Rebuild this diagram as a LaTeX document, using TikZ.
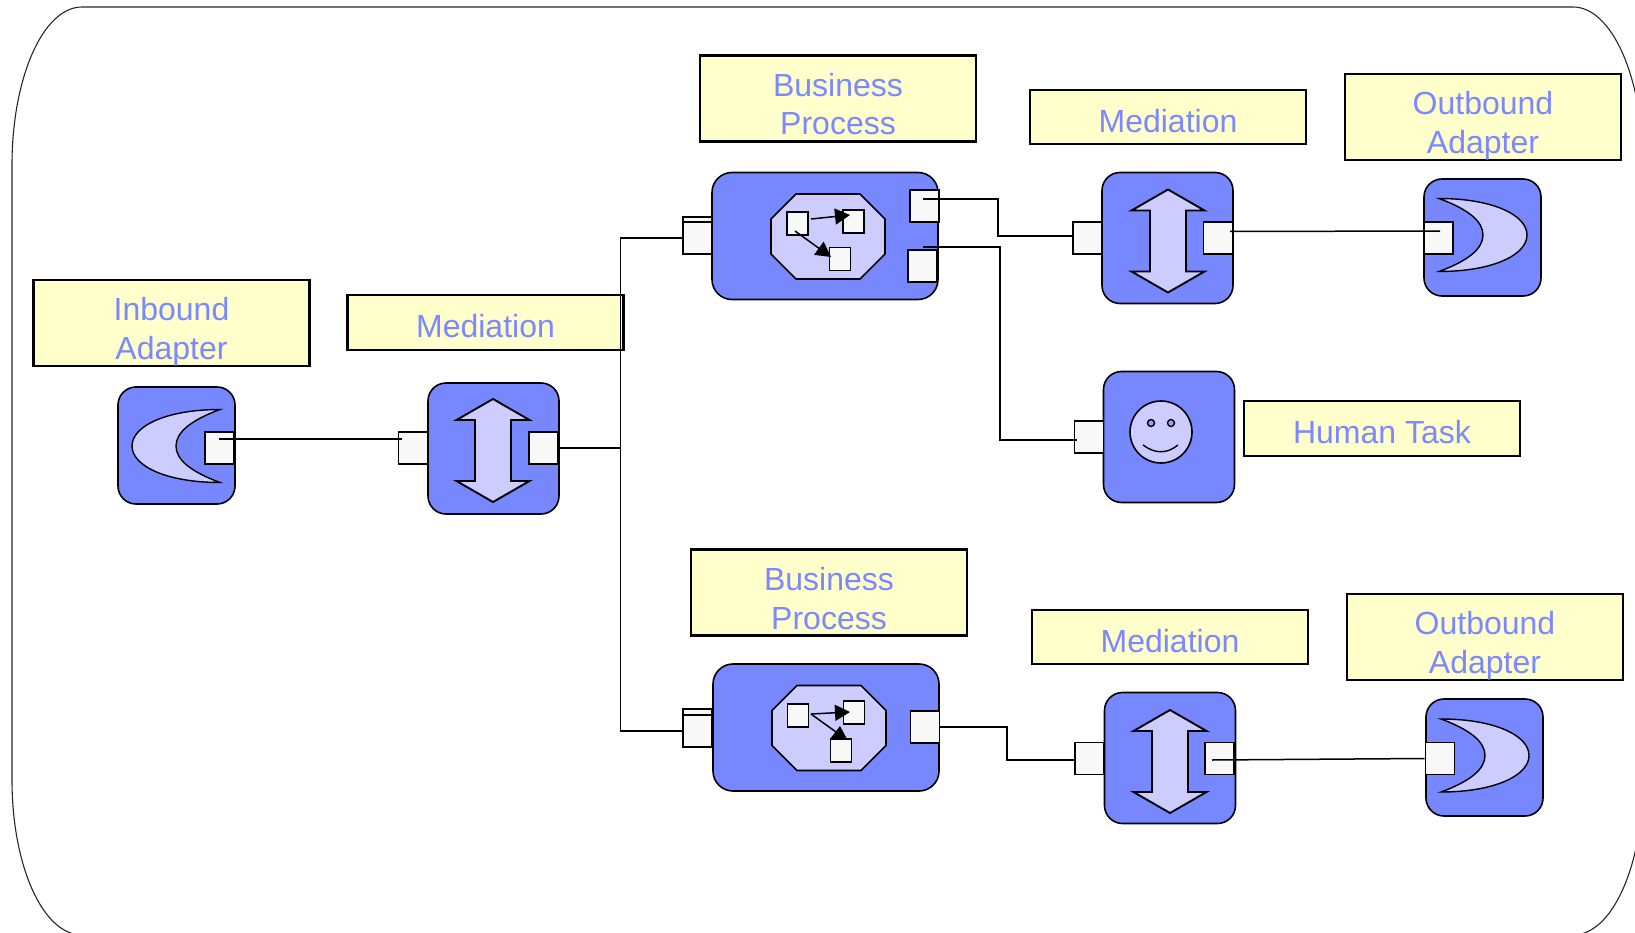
\documentclass[tikz,border=0pt]{standalone}
\usepackage{fontspec}
\setmainfont{Liberation Sans}
\usetikzlibrary{arrows.meta}
\definecolor{iconblue}{HTML}{7788FF}
\definecolor{iconpale}{HTML}{CCCCFF}
\definecolor{noteyellow}{HTML}{FFFFCC}
\definecolor{portgrey}{HTML}{F8F8F8}
\definecolor{notetext}{HTML}{7B88FF}
\tikzset{
  notebox/.style={draw=black,line width=2.1pt,fill=noteyellow,text=notetext,inner sep=0pt,minimum width=276pt,align=center,font=\fontsize{32}{38.6}\selectfont},
  noteone/.style={notebox,text height=42.5pt,text depth=12pt},
  notetwo/.style={notebox,text height=79.5pt,text depth=6.5pt},
  icon/.style={draw=black,line width=1.6pt,fill=iconblue,rounded corners=18pt,inner sep=0pt,minimum width=131pt,minimum height=131pt},
  port/.style={draw=black,line width=1.6pt,fill=portgrey,inner sep=0pt,minimum width=29pt,minimum height=32pt},
  tasksq/.style={draw=black,line width=1.6pt,fill=portgrey,inner sep=0pt,minimum width=21pt,minimum height=23pt},
  wire/.style={draw=black,line width=1.5pt},
  taskarrow/.style={draw=black,line width=1.5pt,-{Triangle[length=15pt,width=16pt]}},
  pics/updown/.style={code={
    \draw[line width=1.9pt,fill=iconpale,line join=miter] (0,-51.5) -- (36.5,-30.5) -- (18,-30.5) -- (18,30.5) -- (36.5,30.5) -- (0,51.5) -- (-36.5,30.5) -- (-18,30.5) -- (-18,-30.5) -- (-36.5,-30.5) -- cycle;
  }},
  pics/crescent/.style={code={
    \draw[line width=1.4pt,fill=iconpale] (-43.5,-36.5) .. controls (10,-36.5) and (44.5,-20) .. (44.5,0) .. controls (44.5,20) and (10,36.5) .. (-43.5,36.5) .. controls (-15,26) and (0.5,14) .. (0.5,0) .. controls (0.5,-14) and (-15,-26) .. (-43.5,-36.5) -- cycle;
  }},
  pics/octagon/.style={code={
    \draw[line width=1.6pt,fill=iconpale] (-32,-42.5) -- (32,-42.5) -- (57,-17.5) -- (57,17.5) -- (32,42.5) -- (-32,42.5) -- (-57,17.5) -- (-57,-17.5) -- cycle;
  }}
}
\begin{document}
\begin{tikzpicture}[x=1pt,y=-1pt]
\useasboundingbox (0,0) rectangle (1635,933);
\clip (0,0) rectangle (1635,933);
\draw[line width=1.1pt,draw=black!85] (12,165) .. controls (12,78) and (43,7) .. (82,7) -- (1573,7) .. controls (1612,7) and (1643,78) .. (1643,165) -- (1643,780) .. controls (1643,866) and (1612,935) .. (1573,935) -- (82,935) .. controls (43,935) and (12,866) .. (12,780) -- cycle;

\node[notetwo] (noteinbound) at (171.5,323) {Inbound\\Adapter};
\node[noteone] (notemedleft) at (485.5,322.5) {Mediation};
\node[notetwo] (noteproctop) at (838,98.5) {Business\\Process};
\node[noteone] (notemedtop) at (1168,117) {Mediation};
\node[notetwo] (noteouttop) at (1483,117) {Outbound\\Adapter};
\node[noteone] (notehuman) at (1382,428.5) {Human Task};
\node[notetwo] (noteprocbot) at (829,592.5) {Business\\Process};
\node[noteone] (notemedbot) at (1170,637) {Mediation};
\node[notetwo] (noteoutbot) at (1485,637) {Outbound\\Adapter};

\node[icon,minimum width=117pt,minimum height=117pt] (inadapter) at (176.5,445.5) {};
\pic[xscale=-1] at (176.5,446) {crescent};
\node[port] (inport) at (219.5,448) {};

\node[icon] (medleft) at (493.5,448.5) {};
\pic at (493,450.5) {updown};
\node[port] (medleftin) at (413,448) {};
\node[port] (medleftout) at (543.5,448) {};

\node[icon,minimum width=226pt,minimum height=127pt,rounded corners=20pt] (proctop) at (825,236) {};
\pic at (828,236.5) {octagon};
\node[port,minimum height=37pt] (proctopback) at (697.5,235.5) {};
\node[port] (proctopin) at (697.5,238) {};
\node[port] (proctopouta) at (924.5,206) {};
\node[port] (proctopoutb) at (922.5,266) {};
\node[tasksq] (sqtopa) at (797.5,223.5) {};
\node[tasksq] (sqtopb) at (853.5,221.5) {};
\node[tasksq] (sqtopc) at (840,259) {};
\coordinate (sqtopastart) at (811,219);
\coordinate (sqtopbend) at (850,215);
\coordinate (sqtopbstart) at (795,231);
\coordinate (sqtopcend) at (831,257);
\draw[taskarrow] (sqtopastart) -- (sqtopbend);
\draw[taskarrow] (sqtopbstart) -- (sqtopcend);

\node[icon] (medtop) at (1167.5,238) {};
\pic at (1168,241) {updown};
\node[port] (medtopin) at (1087.5,238) {};
\node[port] (medtopout) at (1218,238) {};

\node[icon,minimum width=117pt,minimum height=117pt] (outtop) at (1482.5,237.5) {};
\pic at (1482.5,235) {crescent};
\node[port] (outtopin) at (1438.5,238) {};

\node[icon] (human) at (1169,437) {};
\node[port] (humanin) at (1089,437) {};
\draw[line width=1.6pt,fill=iconpale] (1161,432) circle (31);
\draw[line width=1.4pt,fill=iconblue!70!iconpale] (1151,423) circle (3.5) (1171,423) circle (3.5);
\draw[line width=1.4pt] (1143,445) .. controls (1155,454) and (1167,454) .. (1178,445);

\node[icon,minimum width=226pt,minimum height=127pt,rounded corners=20pt] (procbot) at (826,727.5) {};
\pic at (829,728) {octagon};
\node[port,minimum height=38pt] (procbotback) at (697.5,728) {};
\node[port] (procbotin) at (697.5,731) {};
\node[port] (procbotout) at (925,727) {};
\node[tasksq] (sqbota) at (798,715.5) {};
\node[tasksq] (sqbotb) at (854,712.5) {};
\node[tasksq] (sqbotc) at (841,750.5) {};
\coordinate (sqbotstart) at (811,714);
\coordinate (sqbotbend) at (850,712);
\coordinate (sqbotcend) at (836,732);
\draw[taskarrow] (sqbotstart) -- (sqbotbend);
\draw[line width=1.5pt] (sqbotstart) -- (sqbotcend);
\fill (840,726) -- (847,739) -- (830,739) -- cycle;

\node[icon] (medbot) at (1170,758) {};
\pic at (1170,761.5) {updown};
\node[port] (medbotin) at (1089.5,758.5) {};
\node[port] (medbotout) at (1219.5,758.5) {};

\node[icon,minimum width=117pt,minimum height=117pt] (outbot) at (1484.5,757.5) {};
\pic at (1484.5,755.5) {crescent};
\node[port] (outbotin) at (1440,758.5) {};

\coordinate (inwirea) at (219,439);
\coordinate (inwireb) at (402,439);
\draw[wire] (inwirea) -- (inwireb);
\coordinate (busmid) at (620.5,448);
\draw[wire] (medleftout.east) -- (busmid);
\draw[wire] (proctopin.west) -| (busmid);
\draw[wire] (procbotin.west) -| (busmid);
\coordinate (wiretopa) at (923,199);
\coordinate (bendtopa) at (998,215);
\coordinate (wiretopb) at (1074,236);
\draw[wire] (wiretopa) -| (bendtopa) |- (wiretopb);
\coordinate (wirehumana) at (923,247);
\coordinate (bendhuman) at (1000,340);
\coordinate (wirehumanb) at (1077,440);
\draw[wire] (wirehumana) -| (bendhuman) |- (wirehumanb);
\coordinate (wireouttopa) at (1230,231.5);
\coordinate (wireouttopb) at (1440,231);
\draw[wire] (wireouttopa) -- (wireouttopb);
\coordinate (bendbot) at (1007,745);
\coordinate (wirebotb) at (1075,760);
\draw[wire] (procbotout.east) -| (bendbot) |- (wirebotb);
\coordinate (wireoutbota) at (1212,760);
\draw[wire] (wireoutbota) -- (outbotin.west);
\end{tikzpicture}
\end{document}
